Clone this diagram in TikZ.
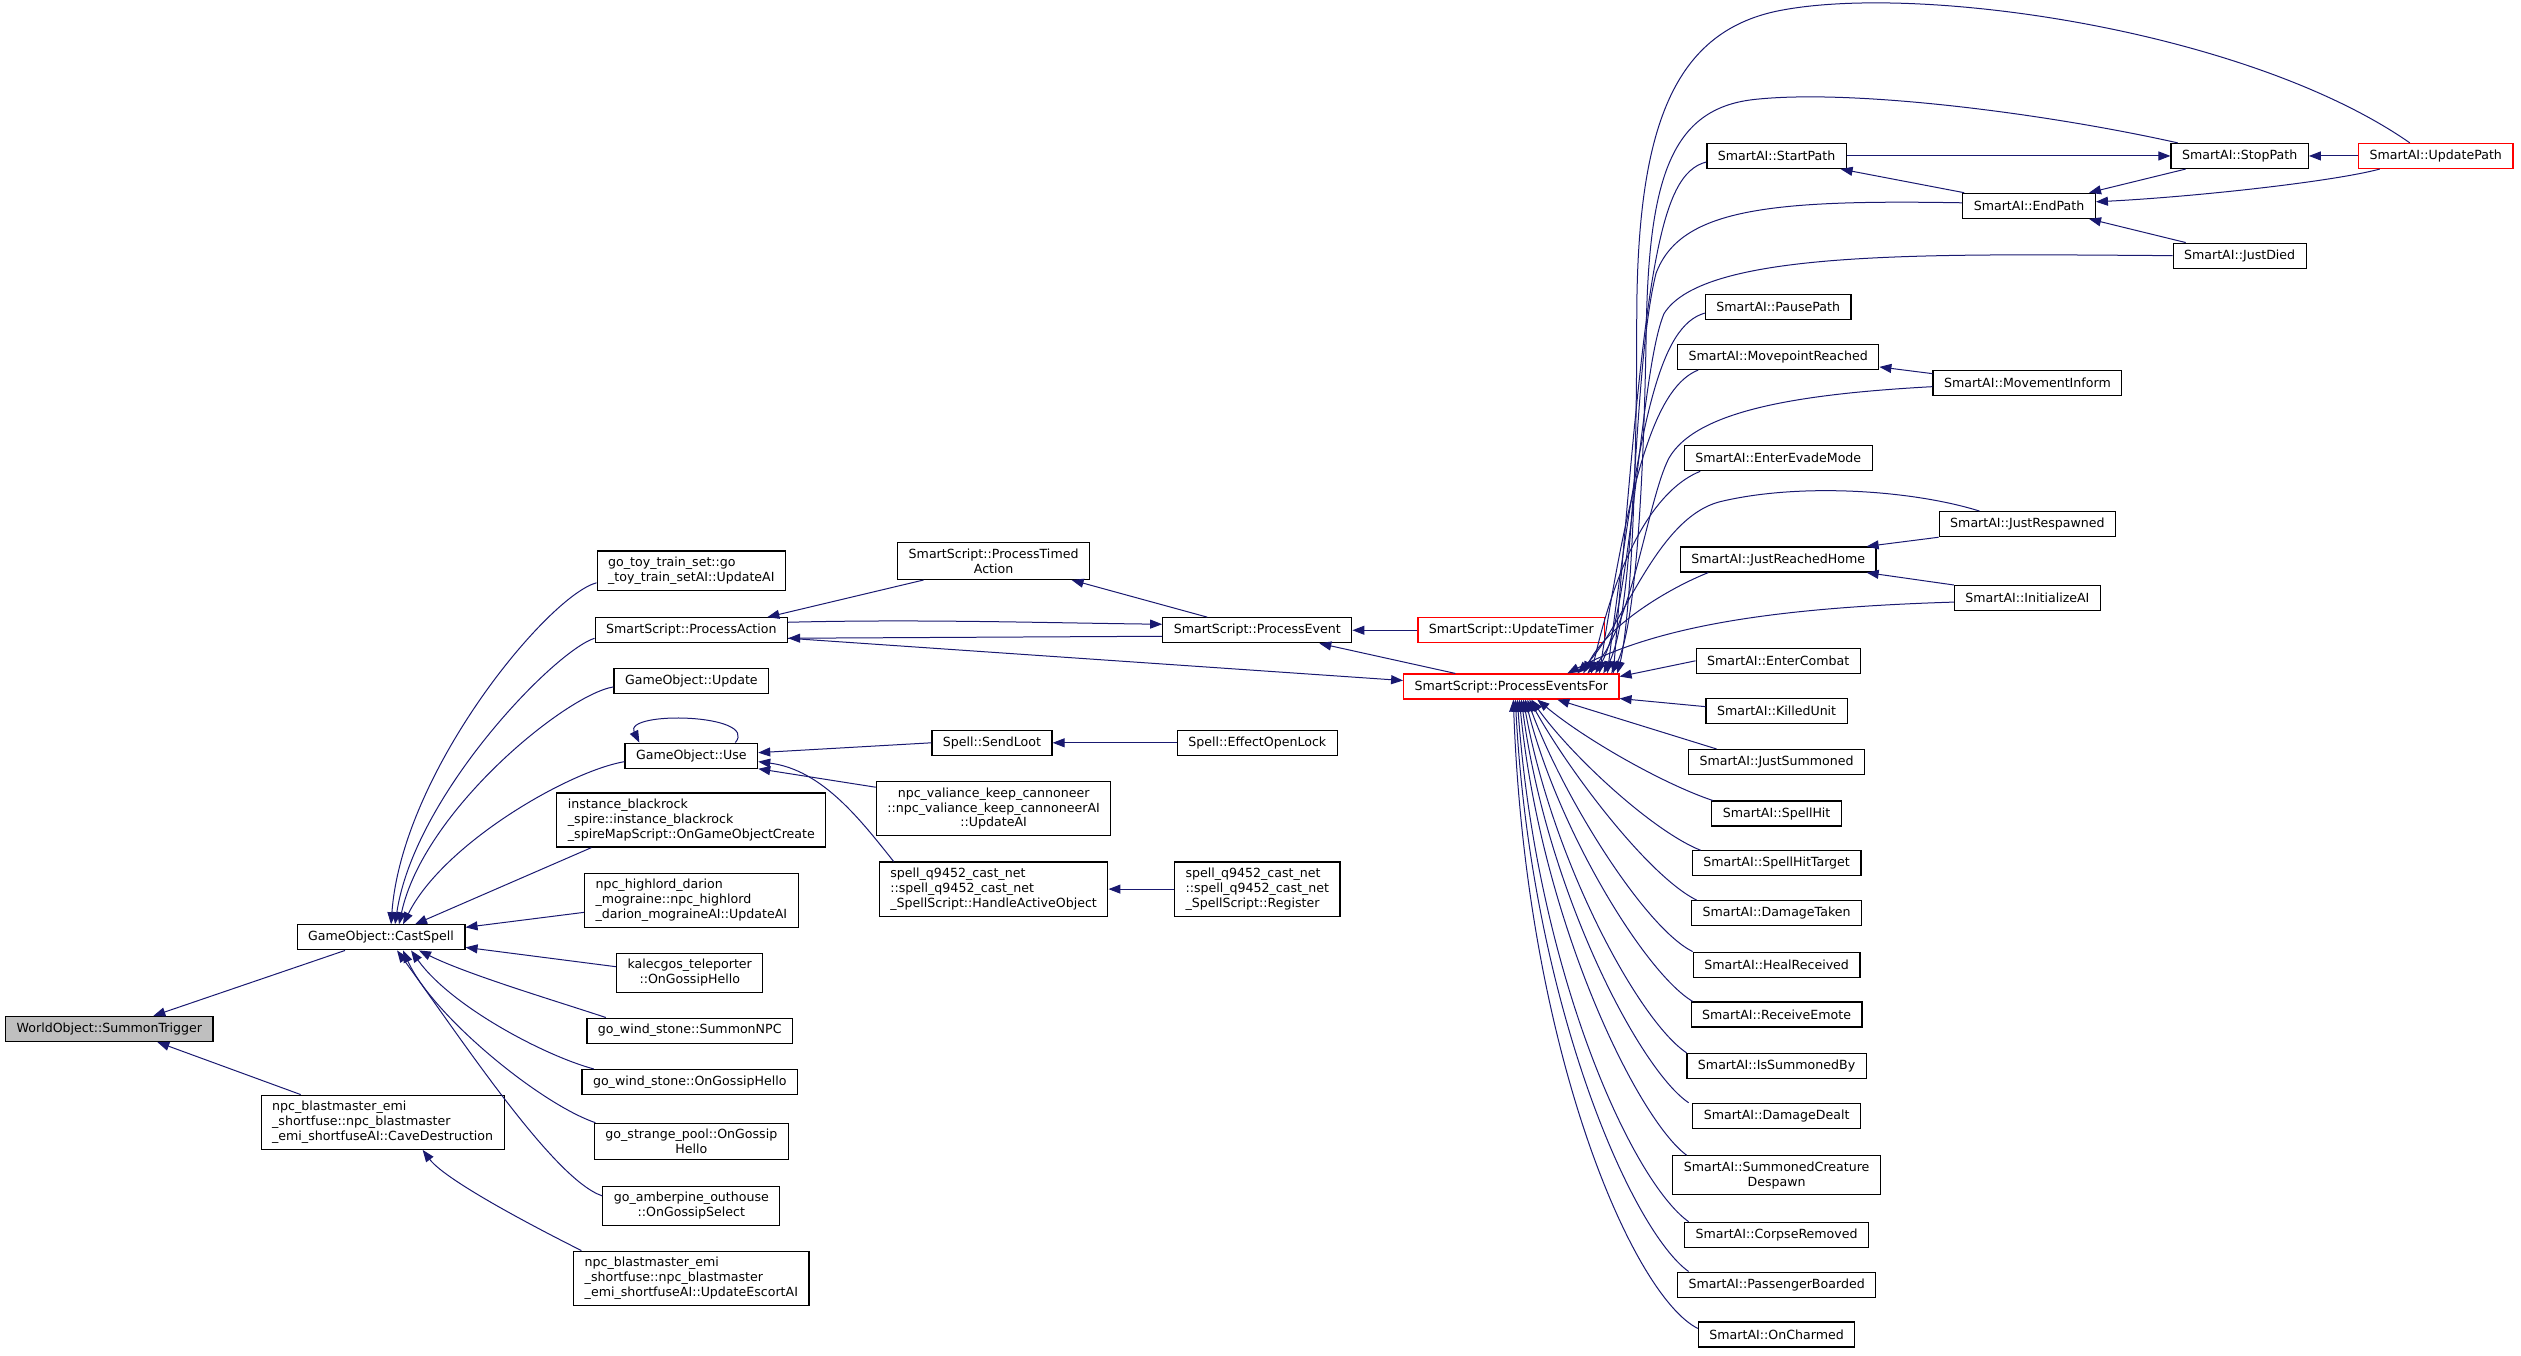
\documentclass[tikz,border=0pt]{standalone}
\usepackage{fontspec}
\setmainfont{DejaVu Sans}
\usetikzlibrary{arrows.meta}
\definecolor{midnight}{RGB}{25,25,112}
\tikzstyle{fn}=[draw=black,line width=0.6pt,fill=white,inner xsep=5.5pt,inner ysep=3pt,minimum height=12.5pt,font=\fontsize{6.3}{7.4}\selectfont]
\tikzstyle{truncated}=[draw=red]
\tikzstyle{rootfn}=[fill=gray!50]
\tikzstyle{call}=[midnight,line width=0.5pt,-{Triangle[length=6pt,width=4.5pt]}]
\newcommand{\fnbox}[4][]{% Syntax: [style] {name} {x,y} {label}
	\node[fn,#1] (#2) at (#3) {#4};
}

\begin{document}
\begin{tikzpicture}[x=0.804pt,y=-0.804pt]
	\useasboundingbox (0,0) rectangle (1568,843.3);
	% left part
	\fnbox[rootfn]{summontrigger}{68,640}{WorldObject::SummonTrigger}
	\fnbox{cast}{237,583}{GameObject::CastSpell}
	\fnbox[align=left]{cave}{238,698}{npc\_blastmaster\_emi\\\_shortfuse::npc\_blastmaster\\\_emi\_shortfuseAI::CaveDestruction}
	\fnbox[align=left]{toytrain}{430,355}{go\_toy\_train\_set::go\\\_toy\_train\_setAI::UpdateAI}
	\fnbox{procaction}{430,392}{SmartScript::ProcessAction}
	\fnbox{goupdate}{430,423.5}{GameObject::Update}
	\fnbox{gouse}{430,470}{GameObject::Use}
	\fnbox[align=left]{blackrock}{430,510}{instance\_blackrock\\\_spire::instance\_blackrock\\\_spireMapScript::OnGameObjectCreate}
	\fnbox[align=left]{highlord}{430,560}{npc\_highlord\_darion\\\_mograine::npc\_highlord\\\_darion\_mograineAI::UpdateAI}
	\fnbox[align=center]{kalecgos}{429,605}{kalecgos\_teleporter\\::OnGossipHello}
	\fnbox{summonnpc}{429,641}{go\_wind\_stone::SummonNPC}
	\fnbox{windhello}{429,673}{go\_wind\_stone::OnGossipHello}
	\fnbox[align=center]{strangepool}{430,710}{go\_strange\_pool::OnGossip\\Hello}
	\fnbox[align=center]{amberpine}{430,750}{go\_amberpine\_outhouse\\::OnGossipSelect}
	\fnbox[align=left]{escort}{430,795}{npc\_blastmaster\_emi\\\_shortfuse::npc\_blastmaster\\\_emi\_shortfuseAI::UpdateEscortAI}
	% middle part
	\fnbox[align=center]{timedaction}{618,349}{SmartScript::ProcessTimed\\Action}
	\fnbox{procevent}{782,392}{SmartScript::ProcessEvent}
	\fnbox{sendloot}{617,462}{Spell::SendLoot}
	\fnbox{openlock}{782,462}{Spell::EffectOpenLock}
	\fnbox[align=center]{cannoneer}{618,503}{npc\_valiance\_keep\_cannoneer\\::npc\_valiance\_keep\_cannoneerAI\\::UpdateAI}
	\fnbox[align=left]{handleobj}{618,553}{spell\_q9452\_cast\_net\\::spell\_q9452\_cast\_net\\\_SpellScript::HandleActiveObject}
	\fnbox[align=left]{register}{782,553}{spell\_q9452\_cast\_net\\::spell\_q9452\_cast\_net\\\_SpellScript::Register}
	\fnbox[truncated]{updatetimer}{940,392}{SmartScript::UpdateTimer}
	\fnbox[truncated]{eventsfor}{940,427}{SmartScript::ProcessEventsFor}
	% right column
	\fnbox{startpath}{1105,97}{SmartAI::StartPath}
	\fnbox{pausepath}{1106,191}{SmartAI::PausePath}
	\fnbox{movepoint}{1106,222}{SmartAI::MovepointReached}
	\fnbox{evade}{1106,285}{SmartAI::EnterEvadeMode}
	\fnbox{reachedhome}{1106,348}{SmartAI::JustReachedHome}
	\fnbox{entercombat}{1106,411}{SmartAI::EnterCombat}
	\fnbox{killedunit}{1105,442}{SmartAI::KilledUnit}
	\fnbox{justsummoned}{1105,474}{SmartAI::JustSummoned}
	\fnbox{spellhit}{1105,506}{SmartAI::SpellHit}
	\fnbox{spellhittarget}{1105,537}{SmartAI::SpellHitTarget}
	\fnbox{damagetaken}{1105,568}{SmartAI::DamageTaken}
	\fnbox{healreceived}{1105,600}{SmartAI::HealReceived}
	\fnbox{receiveemote}{1105,631}{SmartAI::ReceiveEmote}
	\fnbox{issummonedby}{1105,663}{SmartAI::IsSummonedBy}
	\fnbox{damagedealt}{1105,694}{SmartAI::DamageDealt}
	\fnbox[align=center]{despawn}{1105,731}{SmartAI::SummonedCreature\\Despawn}
	\fnbox{corpse}{1105,768}{SmartAI::CorpseRemoved}
	\fnbox{passenger}{1105,799}{SmartAI::PassengerBoarded}
	\fnbox{charmed}{1105,830}{SmartAI::OnCharmed}
	\fnbox{endpath}{1262,128}{SmartAI::EndPath}
	\fnbox{movinform}{1261,238}{SmartAI::MovementInform}
	\fnbox{respawned}{1261,326}{SmartAI::JustRespawned}
	\fnbox{initai}{1261,372}{SmartAI::InitializeAI}
	\fnbox{stoppath}{1393,97}{SmartAI::StopPath}
	\fnbox{justdied}{1393,159}{SmartAI::JustDied}
	\fnbox[truncated]{updatepath}{1515,97}{SmartAI::UpdatePath}

	% calls into the left part
	\draw[call] ([xshift=-18pt]cast.south) -- ([xshift=22pt]summontrigger.north);
	\draw[call] ([xshift=-41pt]cave.north) -- ([xshift=24pt]summontrigger.south);
	\draw[call] ([xshift=-55pt]escort.north) .. controls +(-20,-10) and +(15,20) .. ([xshift=20pt]cave.south);
	\draw[call] ([yshift=-6pt]toytrain.west) .. controls +(-30,8) and +(7,-95) .. ([xshift=5pt]cast.north);
	\draw[call] ([yshift=-4pt]procaction.west) .. controls +(-25,8) and +(12,-80) .. ([xshift=7pt]cast.north);
	\draw[call] ([yshift=-3pt]goupdate.west) .. controls +(-30,5) and +(15,-70) .. ([xshift=9pt]cast.north);
	\draw[call] ([yshift=-3pt]gouse.west) .. controls +(-35,6) and +(25,-50) .. ([xshift=11pt]cast.north);
	\draw[call] ([xshift=-50pt]blackrock.south) -- ([xshift=17pt]cast.north);
	\draw[call] ([yshift=-6pt]highlord.west) -- ([yshift=5pt]cast.east);
	\draw[call] ([yshift=3pt]kalecgos.west) -- ([yshift=-5pt]cast.east);
	\draw[call] ([xshift=-42pt]summonnpc.north) .. controls +(-30,-10) and +(30,15) .. ([xshift=19pt]cast.south);
	\draw[call] ([xshift=-48pt]windhello.north) .. controls +(-30,-8) and +(25,35) .. ([xshift=15pt]cast.south);
	\draw[call] ([xshift=-48pt]strangepool.north) .. controls +(-35,-12) and +(18,40) .. ([xshift=11pt]cast.south);
	\draw[call] ([yshift=5pt]amberpine.west) .. controls +(-30,-10) and +(40,55) .. ([xshift=8pt]cast.south);
	% calls into the middle part
	\draw[call] ([xshift=-35pt]timedaction.south) -- ([xshift=38pt]procaction.north);
	\draw[call] ([xshift=-25pt]procevent.north) -- ([xshift=39pt]timedaction.south);
	\draw[call] ([yshift=4pt]procaction.east) .. controls +(80,-2) and +(-80,-1) .. ([yshift=3pt]procevent.west);
	\draw[call] ([yshift=-3pt]procevent.west) -- ([yshift=-4pt]procaction.east);
	\draw[call] ([yshift=-4pt]procaction.east) -- ([yshift=3pt]eventsfor.west);
	\draw[call] ([xshift=-28pt]eventsfor.north) -- ([xshift=31pt]procevent.south);
	\draw[call] (updatetimer.west) -- (procevent.east);
	\draw[call] ([xshift=22pt]gouse.north) .. controls +(15,-18) and +(-10,-20) .. ([xshift=-26pt]gouse.north);
	\draw[call] (sendloot.west) -- ([yshift=1.5pt]gouse.east);
	\draw[call] ([yshift=-3pt]cannoneer.north west) -- (gouse.south east);
	\draw[call] ([xshift=-50pt]handleobj.north) .. controls +(-20,-25) and +(40,5) .. ([yshift=-3pt]gouse.east);
	\draw[call] (openlock.west) -- (sendloot.east);
	\draw[call] (register.west) -- (handleobj.east);
	% calls among the path functions
	\draw[call] (startpath.east) -- (stoppath.west);
	\draw[call] ([xshift=1pt]endpath.north west) -- ([xshift=32pt]startpath.south);
	\draw[call] ([xshift=-27pt]stoppath.south) -- ([xshift=30pt]endpath.north);
	\draw[call] (updatepath.west) -- (stoppath.east);
	\draw[call] ([xshift=-28pt]updatepath.south) .. controls +(-30,8) and +(60,-3) .. ([yshift=2pt]endpath.east);
	\draw[call] ([xshift=-27pt]justdied.north) -- ([xshift=30pt]endpath.south);
	\draw[call] ([yshift=4.5pt]movinform.west) -- ([yshift=-5pt]movepoint.east);
	\draw[call] (respawned.south west) -- ([xshift=-5pt]reachedhome.north east);
	\draw[call] (initai.north west) -- ([xshift=-5pt]reachedhome.south east);
	% calls into ProcessEventsFor, from above
	\draw[call] ([xshift=-13pt]updatepath.north) .. controls (1400,20) and (1200,-10) .. (1110,6)
		.. controls (1040,18) and (1018,80) .. (1018,200) .. controls (1018,330) and (1012,395) .. ([xshift=53pt]eventsfor.north);
	\draw[call] ([xshift=-31pt]stoppath.north) .. controls (1270,70) and (1150,55) .. (1090,62)
		.. controls (1040,68) and (1026,110) .. (1024,200) .. controls (1022,330) and (1015,395) .. ([xshift=50pt]eventsfor.north);
	\draw[call] ([yshift=-3pt]startpath.west) .. controls +(-30,8) and +(20,-250) .. ([xshift=51pt]eventsfor.north);
	\draw[call] ([yshift=1.5pt]endpath.west) .. controls (1100,124) and (1045,130) .. (1030,170)
		.. controls (1015,230) and (1018,380) .. ([xshift=46pt]eventsfor.north);
	\draw[call] (justdied.west) .. controls (1200,158) and (1060,155) .. (1035,195)
		.. controls (1020,230) and (1015,380) .. ([xshift=42pt]eventsfor.north);
	\draw[call] ([yshift=-3pt]pausepath.west) .. controls +(-28,8) and +(20,-160) .. ([xshift=48pt]eventsfor.north);
	\draw[call] ([xshift=-40pt]movepoint.south) .. controls +(-25,10) and +(20,-130) .. ([xshift=44pt]eventsfor.north);
	\draw[call] ([yshift=-2pt]movinform.west) .. controls (1120,245) and (1055,255) .. (1038,285)
		.. controls (1025,310) and (1015,390) .. ([xshift=38pt]eventsfor.north);
	\draw[call] ([xshift=-39pt]evade.south) .. controls +(-25,10) and +(18,-80) .. ([xshift=40pt]eventsfor.north);
	\draw[call] ([xshift=-24pt]respawned.north) .. controls (1190,305) and (1120,300) .. (1070,312)
		.. controls (1030,322) and (1010,390) .. ([xshift=33pt]eventsfor.north);
	\draw[call] ([xshift=-35pt]reachedhome.south) .. controls +(-25,10) and +(15,-30) .. ([xshift=36pt]eventsfor.north);
	\draw[call] ([yshift=-2pt]initai.west) .. controls (1100,378) and (1030,390) .. ([xshift=28pt]eventsfor.north);
	% from the right and from below
	\draw[call] (entercombat.west) -- ([yshift=5pt]eventsfor.east);
	\draw[call] ([yshift=2pt]killedunit.west) -- ([yshift=-6pt]eventsfor.east);
	\draw[call] ([xshift=-30pt]justsummoned.north) -- ([xshift=23pt]eventsfor.south);
	\draw[call] ([xshift=-32pt]spellhit.north) .. controls +(-30,-10) and +(30,25) .. ([xshift=13pt]eventsfor.south);
	\draw[call] ([xshift=-38pt]spellhittarget.north) .. controls +(-30,-12) and +(25,35) .. ([xshift=10pt]eventsfor.south);
	\draw[call] ([xshift=-40pt]damagetaken.north) .. controls +(-30,-15) and +(25,45) .. ([xshift=9pt]eventsfor.south);
	\draw[call] ([xshift=-42pt]healreceived.north) .. controls +(-30,-15) and +(22,60) .. ([xshift=8pt]eventsfor.south);
	\draw[call] ([xshift=-42pt]receiveemote.north) .. controls +(-30,-18) and +(20,80) .. ([xshift=7pt]eventsfor.south);
	\draw[call] ([xshift=-45pt]issummonedby.north) .. controls +(-30,-20) and +(18,100) .. ([xshift=6pt]eventsfor.south);
	\draw[call] ([xshift=-44pt]damagedealt.north) .. controls +(-30,-20) and +(16,120) .. ([xshift=5pt]eventsfor.south);
	\draw[call] ([xshift=-45pt]despawn.north) .. controls +(-30,-22) and +(14,140) .. ([xshift=4pt]eventsfor.south);
	\draw[call] ([xshift=-44pt]corpse.north) .. controls +(-35,-25) and +(12,170) .. ([xshift=3pt]eventsfor.south);
	\draw[call] ([xshift=-44pt]passenger.north) .. controls +(-35,-25) and +(10,190) .. ([xshift=2pt]eventsfor.south);
	\draw[call] ([yshift=3pt]charmed.west) .. controls +(-40,-20) and +(8,220) .. ([xshift=1pt]eventsfor.south);
\end{tikzpicture}
\end{document}
